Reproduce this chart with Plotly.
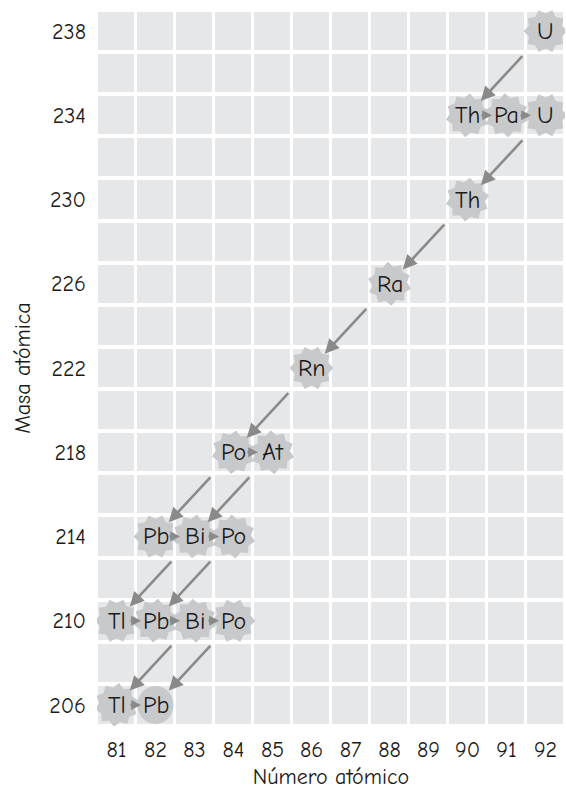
import math
import plotly.graph_objects as go

# ---- data ----
z_cols = list(range(81, 93))            # número atómico
a_rows = list(range(206, 239, 2))       # masa atómica rows
y_ticks = list(range(206, 239, 4))

symbols = ["U", "Th", "Pa", "U", "Th", "Ra", "Rn", "Po", "At", "Pb", "Bi", "Po",
           "Tl", "Pb", "Bi", "Po", "Tl", "Pb"]
nuc_Z = [92, 90, 91, 92, 90, 88, 86, 84, 85, 82, 83, 84, 81, 82, 83, 84, 81, 82]
nuc_A = [238, 234, 234, 234, 230, 226, 222, 218, 218, 214, 214, 214, 210, 210, 210, 210, 206, 206]
stable = [False] * 17 + [True]

alpha_parents = [(92, 238), (92, 234), (90, 230), (88, 226), (86, 222), (84, 218),
                 (85, 218), (83, 214), (84, 214), (83, 210), (84, 210)]
beta_parents = [(90, 234), (91, 234), (84, 218), (82, 214), (83, 214), (81, 210),
                (82, 210), (83, 210), (81, 206)]

FONT = "Comic Sans MS, Comic Neue, Noto Sans, sans-serif"
CELL = "#e6e7e9"
STAR = "#c8c9cb"
ARROW = "#8a8a8a"
TXT = "#1a1a1a"

fig = go.Figure()
fig.add_trace(go.Heatmap(
    x=z_cols, y=a_rows, z=[[1] * len(z_cols) for _ in a_rows],
    colorscale=[[0, CELL], [1, CELL]], showscale=False, xgap=3, ygap=4,
    hoverinfo="skip"))

shapes = []
annotations = []


def burst_path(n=10, r_out=22, r_in=17.5, rot=0.0):
    pts = []
    for i in range(2 * n):
        r = r_out if i % 2 == 0 else r_in
        ang = rot + math.pi * i / n
        pts.append((r * math.cos(ang), r * math.sin(ang)))
    return "M" + "L".join(f"{x:.2f},{y:.2f}" for x, y in pts) + "Z"


for i, (s, zz, aa, st) in enumerate(zip(symbols, nuc_Z, nuc_A, stable)):
    if st:
        shapes.append(dict(type="circle", xsizemode="pixel", ysizemode="pixel",
                           xanchor=zz, yanchor=aa, x0=-18, x1=18, y0=-19, y1=19,
                           xref="x", yref="y", fillcolor=STAR, line_width=0,
                           layer="above"))
    else:
        shapes.append(dict(type="path", xsizemode="pixel", ysizemode="pixel",
                           xanchor=zz, yanchor=aa, path=burst_path(rot=0.2 * (i % 3)),
                           xref="x", yref="y", fillcolor=STAR, line_width=0,
                           layer="above"))
    annotations.append(dict(x=zz, y=aa, xref="x", yref="y", text=s, showarrow=False,
                            font=dict(family=FONT, size=24, color=TXT)))

for (pz, pa) in alpha_parents:
    dz, da = pz - 2, pa - 4
    t0, t1 = 0.28, 0.83
    annotations.append(dict(
        x=pz + t1 * (dz - pz), y=pa + t1 * (da - pa),
        ax=pz + t0 * (dz - pz), ay=pa + t0 * (da - pa),
        xref="x", yref="y", axref="x", ayref="y", text="", showarrow=True,
        arrowhead=2, arrowsize=1.1, arrowwidth=2.6, arrowcolor=ARROW, standoff=0))

for (pz, pa) in beta_parents:
    dz, da = pz + 1, pa
    t0, t1 = 0.32, 0.63
    annotations.append(dict(
        x=pz + t1 * (dz - pz), y=pa, ax=pz + t0 * (dz - pz), ay=pa,
        xref="x", yref="y", axref="x", ayref="y", text="", showarrow=True,
        arrowhead=2, arrowsize=0.9, arrowwidth=2.2, arrowcolor=ARROW, standoff=0))

fig.update_layout(
    width=566, height=791, margin=dict(l=97, r=1, t=10, b=65),
    paper_bgcolor="white", plot_bgcolor="white",
    font=dict(family=FONT, size=22, color=TXT),
    shapes=shapes, annotations=annotations, showlegend=False,
    xaxis=dict(range=[80.5, 92.5], tickvals=z_cols, showgrid=False, zeroline=False,
               showline=False, ticks="", ticklabelstandoff=8,
               tickfont=dict(size=22),
               title=dict(text="Número atómico", font=dict(size=22), standoff=6)),
    yaxis=dict(range=[205, 239], tickvals=y_ticks, showgrid=False, zeroline=False,
               showline=False, ticks="", ticklabelstandoff=10,
               tickfont=dict(size=22),
               title=dict(text="Masa atómica", font=dict(size=22), standoff=12)),
)

fig.write_html("out.html", config={"displayModeBar": False},
               post_script="document.body.style.margin='0';document.body.style.padding='0';")
